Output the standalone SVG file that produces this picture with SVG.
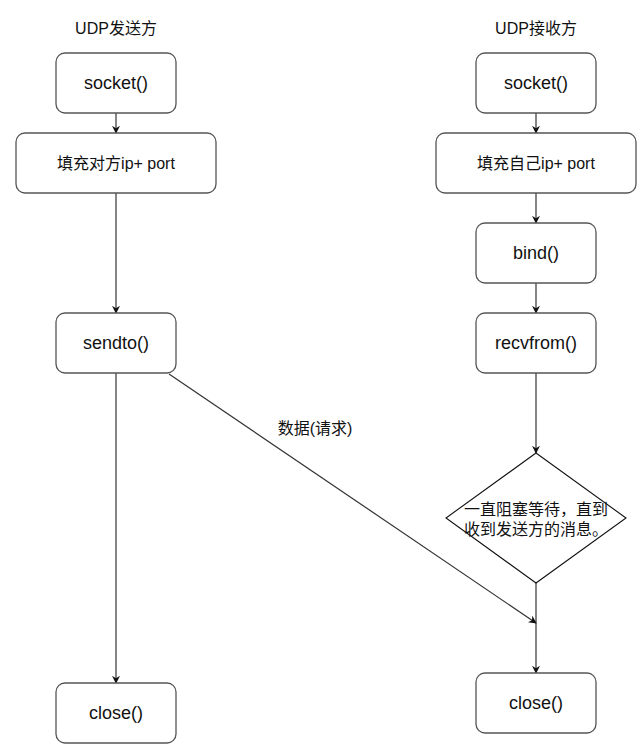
<svg xmlns="http://www.w3.org/2000/svg" width="643" height="755" viewBox="0 0 643 755">
<style>
.box{fill:#fff;stroke:#555;stroke-width:1.3}
.dia{fill:#fff;stroke:#111;stroke-width:1.1}
.t{font-family:"Liberation Sans","Noto Sans CJK SC",sans-serif;font-size:18px;fill:#111;text-anchor:middle}
.c{font-family:"Liberation Sans","Noto Sans CJK SC",sans-serif;font-size:16px;fill:#111;text-anchor:middle}
.e{stroke:#333;stroke-width:1.2;fill:none;marker-end:url(#a)}
</style>
<defs>
<marker id="a" viewBox="0 0 10 10" refX="9" refY="5" markerWidth="8" markerHeight="8" markerUnits="userSpaceOnUse" orient="auto">
<path d="M0,0 L10,5 L0,10 L3,5 Z" fill="#111"/>
</marker>
</defs>
<rect width="643" height="755" fill="#fff"/>
<g id="connectors">
<line class="e" x1="116" y1="113" x2="116" y2="133"/>
<line class="e" x1="116" y1="193" x2="116" y2="313"/>
<line class="e" x1="116" y1="373" x2="116" y2="683"/>
<line class="e" x1="536" y1="113" x2="536" y2="133"/>
<line class="e" x1="536" y1="193" x2="536" y2="223"/>
<line class="e" x1="536" y1="283" x2="536" y2="313"/>
<line class="e" x1="536" y1="373" x2="536" y2="453"/>
<line class="e" x1="536" y1="583" x2="536" y2="673"/>
<line class="e" x1="169" y1="374" x2="536" y2="623"/>
<text class="c" x="315" y="434">数据(请求)</text>
</g>
<g id="title-sender"><text class="c" x="116" y="34">UDP发送方</text></g>
<g id="title-receiver"><text class="c" x="536" y="34">UDP接收方</text></g>
<g id="s-socket"><rect class="box" x="56" y="53" width="120" height="60" rx="9"/><text class="t" x="116" y="89">socket()</text></g>
<g id="s-fill"><rect class="box" x="16" y="133" width="200" height="60" rx="9"/><text class="c" x="116" y="169">填充对方ip+ port</text></g>
<g id="s-sendto"><rect class="box" x="56" y="313" width="120" height="60" rx="9"/><text class="t" x="116" y="349">sendto()</text></g>
<g id="s-close"><rect class="box" x="56" y="683" width="120" height="60" rx="9"/><text class="t" x="116" y="719">close()</text></g>
<g id="r-socket"><rect class="box" x="476" y="53" width="120" height="60" rx="9"/><text class="t" x="536" y="89">socket()</text></g>
<g id="r-fill"><rect class="box" x="436" y="133" width="200" height="60" rx="9"/><text class="c" x="536" y="169">填充自己ip+ port</text></g>
<g id="r-bind"><rect class="box" x="476" y="223" width="120" height="60" rx="9"/><text class="t" x="536" y="259">bind()</text></g>
<g id="r-recvfrom"><rect class="box" x="476" y="313" width="120" height="60" rx="9"/><text class="t" x="536" y="349">recvfrom()</text></g>
<g id="r-wait"><polygon class="dia" points="536,453 626,518 536,583 446,518"/><text class="c" x="536" y="515">一直阻塞等待，直到</text><text class="c" x="536" y="535">收到发送方的消息。</text></g>
<g id="r-close"><rect class="box" x="476" y="673" width="120" height="60" rx="9"/><text class="t" x="536" y="709">close()</text></g>
</svg>
